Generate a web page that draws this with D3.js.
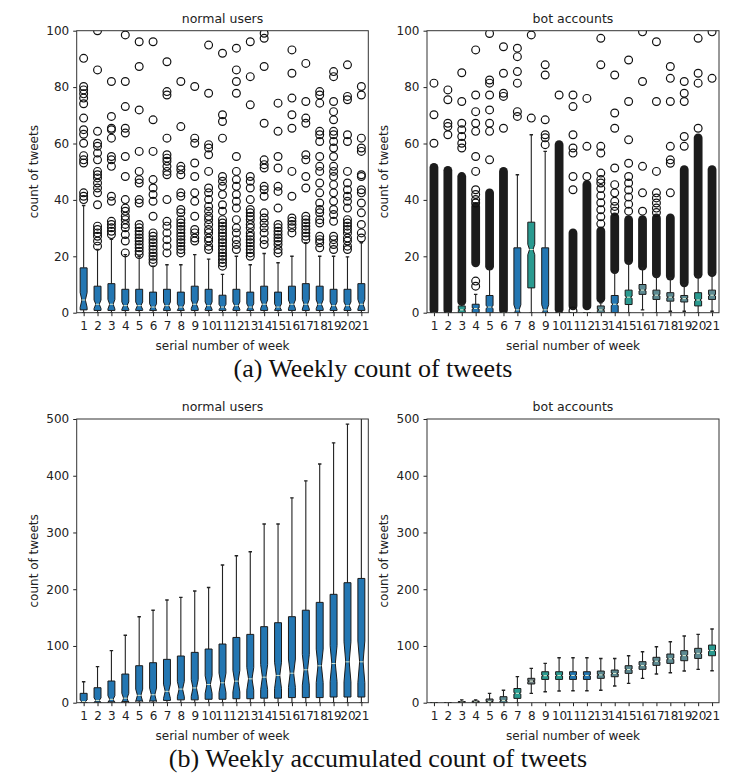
<!DOCTYPE html>
<html>
<head>
<meta charset="utf-8">
<script src="https://cdn.jsdelivr.net/npm/d3@7/dist/d3.min.js"></script>
<style>
  body { margin: 0; background: #fff; }
  svg text { font-family: "DejaVu Sans", sans-serif; fill: #222; }
</style>
</head>
<body>
<svg width="754" height="777"></svg>
<script>
// x categories (serial number of week)
var weeks = [1,2,3,4,5,6,7,8,9,10,11,12,13,14,15,16,17,18,19,20,21];
var weeklyTicks = [0,20,40,60,80,100];
var accumTicks = [0,100,200,300,400,500];

// (a) weekly count, normal users
var nwQ1  = [1.0,0.8,0.8,0.8,0.8,0.8,0.8,0.8,0.8,0.8,0.8,0.8,0.8,0.8,0.8,0.8,0.8,0.8,0.8,0.8,0.8];
var nwMed = [4.5,3,3,2.5,2.5,2,2.5,2,3,2.5,2,2.5,2,3,2,3,3,3,2.5,2.5,3];
var nwQ3  = [15.9,9.4,10.3,8.3,8.3,7.3,8.3,7.3,9.4,8.3,6.2,8.3,7.3,9.4,7.3,9.4,10.3,9.4,8.3,8.3,10.3];
var nwLo  = [0,0,0,0,0,0,0,0,0,0,0,0,0,0,0,0,0,0,0,0,0];
var nwHi  = [38,22.4,26,20.6,20,16.5,17,17,20.6,19,13.6,20,17,21,17.7,20,24.8,20,20,19.8,24.8];
var nwOut = [
  [90.2,80.2,79.0,77.6,76.1,74.1,69.0,64.9,63.3,60.1,55.7,54.2,53.1,42.5,41.3,40.1],
  [100,86.1,64.3,60.1,59.0,56.6,54.2,50.1,48.9,47.8,46.0,44.2,42.5,38.3,30.7,29.5,28.3,27.1,25.4,23.6],
  [82.0,69.6,65.4,64.9,61.9,55.4,54.2,51.9,41.3,39.5,32.4,31.3,30.1,28.9,27.7],
  [98.5,82.0,73.1,65.4,63.7,55.4,48.3,40.1,37.1,36.0,34.2,33.0,31.3,30.1,27.7,25.4,21.2],
  [96.1,87.3,71.9,57.2,50.1,47.2,46.0,40.1,38.9,31.3,30.1,28.9,27.7,26.5,25.4,24.2,23.0,21.8,20.6],
  [96.1,68.4,57.2,47.2,44.2,41.9,39.5,34.2,28.3,27.1,25.9,24.8,23.6,22.4,21.2,20.0,18.9,17.7],
  [89.0,78.4,77.2,61.9,56.0,54.8,53.7,51.9,50.1,48.9,40.1,32.4,30.7,28.3,25.9,23.6,21.2],
  [82.0,66.0,51.9,50.7,48.9,42.5,41.3,36.6,35.4,33.0,31.8,30.7,29.5,28.3,27.1,25.9,24.8,23.6,22.4,21.2],
  [80.2,61.9,60.1,53.1,48.3,42.5,39.5,34.2,29.5,28.3,26.5,25.4],
  [94.9,77.8,59.6,58.4,56.0,50.1,44.2,42.5,40.1,37.7,36.0,34.2,33.0,31.3,29.5,28.3,26.5,25.4,23.6,22.4],
  [92.0,70.2,67.8,61.9,48.3,46.6,44.8,41.9,38.3,36.0,33.0,31.8,30.7,29.5,28.3,27.1,25.9,24.8,23.6,22.4,21.2,20.0,18.9,17.7,16.5],
  [93.8,86.1,82.0,77.8,55.4,50.1,47.2,44.8,41.9,39.5,37.1,33.0,30.1,28.3,25.9,24.2,22.4],
  [96.1,83.7,73.7,48.3,46.6,44.2,40.1,36.6,35.4,34.2,33.0,31.3,30.1,28.3,27.1,25.9,24.8,23.6,22.4,21.2,20.0],
  [99.1,97.3,87.3,67.2,54.2,52.5,51.3,44.8,43.6,41.3,35.4,33.6,31.8,30.1,28.3,25.9,24.2],
  [74.3,64.3,55.4,51.3,44.8,43.0,37.1,31.3,30.1,28.9,27.7,26.5,25.4,24.2,22.4,21.2],
  [93.2,84.9,76.1,70.2,65.4,50.1,41.3,33.6,32.4,31.3,30.1,28.3],
  [88.4,74.9,69.0,67.2,56.0,54.2,48.3,44.2,34.2,33.0,31.8,30.7,29.5,28.3,27.1,25.9],
  [78.4,77.2,74.3,64.3,63.1,60.7,55.4,51.9,50.1,46.0,42.5,38.9,36.6,35.4,33.0,31.8,27.1,25.9,24.8,23.0],
  [85.5,83.7,74.9,71.3,68.4,64.3,63.1,60.7,58.4,55.4,51.9,50.1,48.3,45.4,42.5,39.5,36.6,34.8,32.4,27.1,25.9,24.2,22.4],
  [87.9,76.7,75.5,63.1,60.7,50.1,46.0,43.6,41.3,39.5,37.1,33.0,31.8,30.7,29.5,28.3,26.5,25.4,23.6,22.4],
  [80.2,77.2,61.9,58.4,57.2,48.9,48.3,43.6,42.5,38.9,35.4,31.3,28.3,26.5]
];

// (a) weekly count, bot accounts
var bwQ1  = [0,0,0,0,0,0,0,8.8,0,0,0,0,0,0,2.9,6.5,4.7,4.1,3.8,2.4,4.7];
var bwMed = [0,0,1,1.5,2,0,1,22.4,1,0,0,0,1,3,5.5,8,6.2,5.5,5,4.5,6.2];
var bwQ3  = [0,0,2.4,3,6.1,0,23,32.1,23,0,0,0,2.4,6.1,8,10,8,7.1,6.1,7.1,8];
var bwLo  = [0,0,0,0,0,0,0,0,0,0,0,0,0,0,0,1,0,0.5,0.5,0,0.5];
var bwHi  = [0,0,3,6.5,15.5,0,48.9,63.1,57.2,0,0,0,3.5,14.2,17.7,15.9,13,12.4,10,13,13.6];
// runs of outliers so close together that they merge into one black column: [from, to]
var bwRuns = [[1,51.5],[1,50.5],[4,48.3],[17.7,37.7],[16.5,42.5],[1,50.1],null,null,null,[1.2,59.6],
  [2.4,28.3],[2.4,45.4],[5,29],[15.3,34],[18.5,33],[16.5,33],[13.8,33.6],[13,33.6],[10.6,50.7],[13.6,62],[14.2,50.7]];
var bwOut = [
  [81.4,70.2,60.1],
  [79,75.5,67.2,66,63.1],
  [85.1,74.9,67.2,64.9,62.5,60.1,58.4],
  [93.2,77.2,71.3,67.2,64.3,55.4,50.1,43.6,41.9,40.1,38.9,11.2,9.4],
  [99,82.5,81.4,77.2,71.9,67.2,64.3,54.2],
  [94.3,84.9,77.8,76.7,65.4],
  [93.8,90.8,85.5,81.4,71.3,69.6],
  [98.5,69],
  [87.9,84.3,68.4,63.1,62,59.6],
  [77.2],
  [77.2,73.1,63.1,58.4,56.6,48.3,43.6,0.6],
  [76,59,48.3],
  [97.3,87.9,59,56.6,49.5,47.2,46,44,41.5,39,36.5,34,31.5],
  [84.3,70.8,65.4,51.3,45.4,42.5,39.5,37.7,36],
  [89.6,74.9,61.3,53,48.3,46,43.5,41,38.5,36],
  [99.6,82,51.9,42.5,36],
  [96.1,74.9,50.1,42.5,40.7,38.9,37.1,35.5],
  [87.3,83.1,74.9,59,54.2,53,42.5],
  [82,77.8,74.9,62.5,59],
  [97.3,84.9,81.4,65.4],
  [99.6,83.1]
];

// (b) accumulated count, normal users
var naQ1  = [0.5,1,1.5,2,3,3,4,5,5,6,6,7,7,8,8,9,9,9,10,10,10];
var naMed = [2,4,6,8,13,14,20,24,26,32,35,38,42,45,48,52,58,65,69,72,72];
var naQ3  = [16.5,26.4,38.2,50.5,65.2,70.5,76.4,82.3,88.7,94.6,103.4,115,120.4,134,141,151.6,163,176.8,191,211.5,219];
var naLo  = [0,0,0,0,0,0,0,0,0,0,0,0,0,0,0,0,0,0,0,0,0];
var naHi  = [37,63.5,91.7,119,151.6,163,181,185.7,196.8,203,242.7,259,266,315,315,361,391,420.7,458,491,540];

// (b) accumulated count, bot accounts
var baQ1  = [0,0,0,0,0,0,7.6,33,41,41,41,41,42.9,45.8,51.7,58.8,65.8,69.3,74,78,82.8];
var baMed = [0,0,1,1.5,2,4,16.5,38,47.6,48,48,48,49,51.5,58.5,65.5,73,77.5,83,87,92];
var baQ3  = [0,0,2,3,6.5,10.6,25,43,54.6,54.6,54.6,54.6,55.8,57.6,65.2,72.3,80,85.8,91.7,95.8,101.6];
var baLo  = [0,0,0,0,0,0,0,16.5,19.4,20.6,21,21,22,29.4,34,42.9,50.5,52.9,55.8,58.8,56.4];
var baHi  = [0,0,5,5,16.5,22,46,60.5,69.3,79.3,79.3,79.3,78,78,82.8,89.9,98.7,107.5,117.5,120.4,130];

// group sizes used for the notches
var nNormal = 80, nBot = 400;

var blue = "#2376b2", teal = "#2a9a90", slate = "#5d8a92", grey = "#707f82";
var fillsBotWeekly = [blue,blue,teal,blue,blue,blue,blue,teal,blue,blue,blue,blue,slate,blue,teal,slate,slate,slate,slate,teal,slate];
var fillsBotAccum  = [grey,grey,grey,grey,grey,slate,teal,grey,teal,teal,blue,blue,slate,slate,slate,slate,slate,slate,slate,slate,teal];

var svg = d3.select("svg");

function panel(o) {
  var x = d3.scaleLinear().domain([0.5, 21.5]).range([o.x0, o.x1]);
  var y = d3.scaleLinear().domain([0, o.yMax]).range([o.y1, o.y0]);
  var bw = x(1.5) - x(1);           // box width = 0.5 of a step
  var g = svg.append("g");
  var clipId = "clip" + o.id;
  g.append("clipPath").attr("id", clipId).append("rect")
    .attr("x", o.x0).attr("y", o.y0).attr("width", o.x1 - o.x0).attr("height", o.y1 - o.y0);
  var marks = g.append("g").attr("clip-path", "url(#" + clipId + ")");

  weeks.forEach(function(w, i) {
    var cx = x(w);
    var q1 = o.q1[i], q3 = o.q3[i], med = o.med[i];
    var half = 1.57 * (q3 - q1) / Math.sqrt(o.n);
    var nlo = med - half, nhi = med + half;
    var L = cx - bw / 2, R = cx + bw / 2, NL = cx - bw / 4, NR = cx + bw / 4;

    // merged outlier runs
    if (o.runs && o.runs[i]) {
      var r = o.runs[i];
      marks.append("rect")
        .attr("x", cx - 4.4).attr("width", 8.8)
        .attr("y", y(r[1]) - 4.4).attr("height", y(r[0]) - y(r[1]) + 8.8)
        .attr("rx", 4.4)
        .style("fill", "#1c1c1c");
    }
    // single outliers
    if (o.out) {
      marks.selectAll(null).data(o.out[i]).enter().append("circle")
        .attr("cx", cx).attr("cy", function(d) { return y(d); }).attr("r", 3.9)
        .style("fill", "none").style("stroke", "#111").style("stroke-width", 1.2);
    }
    // whiskers and caps
    [[q1, o.lo[i]], [q3, o.hi[i]]].forEach(function(p) {
      marks.append("line").attr("x1", cx).attr("x2", cx).attr("y1", y(p[0])).attr("y2", y(p[1]))
        .style("stroke", "#222").style("stroke-width", 1.1);
      marks.append("line").attr("x1", cx - bw / 4).attr("x2", cx + bw / 4).attr("y1", y(p[1])).attr("y2", y(p[1]))
        .style("stroke", "#222").style("stroke-width", 1.4);
    });
    // notched box
    var pts = [[L,q1],[L,nlo],[NL,med],[L,nhi],[L,q3],[R,q3],[R,nhi],[NR,med],[R,nlo],[R,q1]]
      .map(function(p) { return p[0] + "," + y(p[1]); }).join(" ");
    marks.append("polygon").attr("points", pts)
      .style("fill", o.fills ? o.fills[i] : blue).style("stroke", "#1a1a1a").style("stroke-width", 1);
    marks.append("line").attr("x1", NL).attr("x2", NR).attr("y1", y(med)).attr("y2", y(med))
      .style("stroke", "#d9ecd2").style("stroke-width", 1);
  });

  // axes
  var ax = g.append("g").attr("transform", "translate(0," + o.y1 + ")")
    .call(d3.axisBottom(x).tickValues(weeks).tickFormat(d3.format("d")).tickSize(3.5).tickPadding(5));
  var ay = g.append("g").attr("transform", "translate(" + o.x0 + ",0)")
    .call(d3.axisLeft(y).tickValues(o.ticks).tickSize(3.5).tickPadding(4));
  [ax, ay].forEach(function(a) {
    a.select(".domain").remove();
    a.selectAll("line").style("stroke", "#222");
    a.selectAll("text").style("font-family", "DejaVu Sans").style("font-size", "12px").style("fill", "#222");
  });
  g.append("rect").attr("x", o.x0).attr("y", o.y0).attr("width", o.x1 - o.x0).attr("height", o.y1 - o.y0)
    .style("fill", "none").style("stroke", "#333").style("stroke-width", 1);

  var mid = (o.x0 + o.x1) / 2;
  g.append("text").attr("x", mid).attr("y", o.y0 - 8).attr("text-anchor", "middle")
    .style("font-size", "12.5px").text(o.title);
  g.append("text").attr("x", mid).attr("y", o.y1 + 37).attr("text-anchor", "middle")
    .style("font-size", "12px").text("serial number of week");
  g.append("text").attr("transform", "translate(" + (o.x0 - 43) + "," + ((o.y0 + o.y1) / 2) + ") rotate(-90)")
    .attr("dy", "0.35em").attr("text-anchor", "middle").style("font-size", "12px").text("count of tweets");
}

panel({id: "a1", x0: 76.7, x1: 368.3, y0: 30.7, y1: 312.7, yMax: 100, ticks: weeklyTicks, title: "normal users",
  q1: nwQ1, med: nwMed, q3: nwQ3, lo: nwLo, hi: nwHi, out: nwOut, n: nNormal});
panel({id: "a2", x0: 427, x1: 719, y0: 30.7, y1: 312.7, yMax: 100, ticks: weeklyTicks, title: "bot accounts",
  q1: bwQ1, med: bwMed, q3: bwQ3, lo: bwLo, hi: bwHi, out: bwOut, runs: bwRuns, n: nBot, fills: fillsBotWeekly});
panel({id: "b1", x0: 76.7, x1: 368.3, y0: 419, y1: 702.7, yMax: 500, ticks: accumTicks, title: "normal users",
  q1: naQ1, med: naMed, q3: naQ3, lo: naLo, hi: naHi, n: nNormal});
panel({id: "b2", x0: 427, x1: 719, y0: 419, y1: 702.7, yMax: 500, ticks: accumTicks, title: "bot accounts",
  q1: baQ1, med: baMed, q3: baQ3, lo: baLo, hi: baHi, n: nBot, fills: fillsBotAccum});

// sub-figure captions
svg.append("text").attr("x", 373).attr("y", 377).attr("text-anchor", "middle")
  .style("font-family", "Liberation Serif, Times New Roman, serif").style("font-size", "26px").style("fill", "#111")
  .text("(a) Weekly count of tweets");
svg.append("text").attr("x", 378).attr("y", 767).attr("text-anchor", "middle")
  .style("font-family", "Liberation Serif, Times New Roman, serif").style("font-size", "26px").style("fill", "#111")
  .text("(b) Weekly accumulated count of tweets");
</script>
</body>
</html>
